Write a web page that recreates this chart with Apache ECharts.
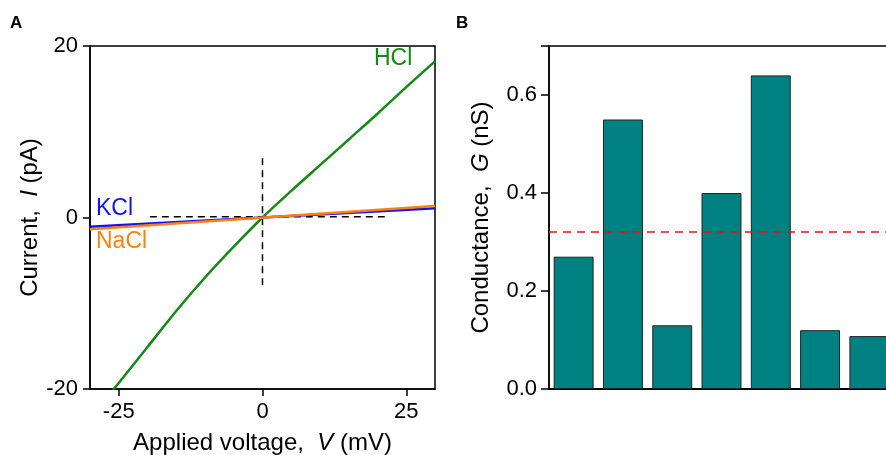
<!DOCTYPE html>
<html>
<head>
<meta charset="utf-8">
<script src="https://cdn.jsdelivr.net/npm/echarts@6/dist/echarts.min.js"></script>
<style>
  html, body { margin: 0; padding: 0; background: #fff; }
  #Root { width: 886px; height: 455px; }
</style>
</head>
<body>
<div id="Root"></div>
<script>
// panel A: I-V curves
let voltageHCl = [-26, -25, -20, -15, -10, -5, 0, 5, 10, 15, 20, 25, 30]
let currentHCl = [-20.1, -19.3, -15.1, -10.9, -7.0, -3.4, 0, 3.1, 6.1, 9.1, 12.1, 15.2, 18.2]
let voltageSalt = [-30, 30]
let currentKCl = [-1.07, 1.07]
let currentNaCl = [-1.38, 1.34]
let dashH = [[-19.6, 0.1], [21.3, 0.1]]
let dashV = [[0, 6.9], [0, -8.3]]
let xTicksA = [-25, 0, 25]

// panel B: conductance bars
let barCategories = ["1", "2", "3", "4", "5", "6", "7"]
let conductance = [0.27, 0.55, 0.13, 0.40, 0.64, 0.12, 0.108]
let meanConductance = 0.32

let font = "'Liberation Sans', Arial, sans-serif"

function zip(xs, ys) {
    return xs.map(function (x, i) { return [x, ys[i]] })
}

let chart = echarts.init(document.getElementById("Root"), null, { renderer: "canvas" })

let axisBase = {
    axisLine: { show: true, onZero: false, lineStyle: { color: "#000", width: 1.5 } },
    axisTick: { show: true, inside: false, length: 7, lineStyle: { color: "#000", width: 1.5 } },
    splitLine: { show: false },
    axisLabel: { color: "#000", fontSize: 22, fontFamily: font, margin: 12 }
}

let titleRich = {
    n: { fontSize: 24, color: "#000", fontFamily: font },
    i: { fontSize: 24, color: "#000", fontFamily: font, fontStyle: "italic" }
}

let options = {
    animation: false,
    textStyle: { fontFamily: font },
    grid: [
        { left: 90, top: 46, width: 345, height: 343, outerBoundsMode: "none", containLabel: false,
          show: true, borderColor: "#000", borderWidth: 1.5, backgroundColor: "transparent" },
        { left: 549, top: 46, width: 345, height: 343, outerBoundsMode: "none", containLabel: false,
          show: true, borderColor: "#000", borderWidth: 1.5, backgroundColor: "transparent" }
    ],
    xAxis: [
        Object.assign({}, axisBase, {
            type: "value", gridIndex: 0, min: -30, max: 30,
            axisTick: Object.assign({}, axisBase.axisTick, { customValues: xTicksA }),
            axisLabel: Object.assign({}, axisBase.axisLabel, { customValues: xTicksA }),
            name: "{n|Applied voltage,  }{i|V}{n| (mV)}",
            nameLocation: "middle", nameGap: 42,
            nameTextStyle: { rich: titleRich }
        }),
        {
            type: "category", gridIndex: 1, data: barCategories,
            axisLine: { show: true, lineStyle: { color: "#000", width: 2 } },
            axisTick: { show: false },
            axisLabel: { show: false }
        }
    ],
    yAxis: [
        Object.assign({}, axisBase, {
            type: "value", gridIndex: 0, min: -20, max: 20, interval: 20,
            name: "{n|Current,  }{i|I}{n| (pA)}",
            nameLocation: "middle", nameGap: 46,
            nameTextStyle: { rich: titleRich }
        }),
        Object.assign({}, axisBase, {
            type: "value", gridIndex: 1, min: 0, max: 0.7, interval: 0.2,
            axisTick: Object.assign({}, axisBase.axisTick, { length: 8 }),
            axisLabel: Object.assign({}, axisBase.axisLabel, {
                formatter: function (v) { return v > 0.65 ? "" : v.toFixed(1) }
            }),
            name: "{n|Conductance,  }{i|G}{n| (nS)}",
            nameLocation: "middle", nameGap: 56,
            nameTextStyle: { rich: titleRich }
        })
    ],
    series: [
        {
            name: "dashH", type: "line", xAxisIndex: 0, yAxisIndex: 0, data: dashH,
            symbol: "none", lineStyle: { color: "#000", width: 1.5, type: [7, 5] }, z: 1
        },
        {
            name: "dashV", type: "line", xAxisIndex: 0, yAxisIndex: 0, data: dashV,
            symbol: "none", lineStyle: { color: "#000", width: 1.5, type: [7, 5] }, z: 1
        },
        {
            name: "HCl", type: "line", xAxisIndex: 0, yAxisIndex: 0, data: zip(voltageHCl, currentHCl),
            symbol: "none", smooth: 0.3, lineStyle: { color: "#138a13", width: 2.5 }, z: 2
        },
        {
            name: "KCl", type: "line", xAxisIndex: 0, yAxisIndex: 0, data: zip(voltageSalt, currentKCl),
            symbol: "none", lineStyle: { color: "#1010ff", width: 2.5 }, z: 3
        },
        {
            name: "NaCl", type: "line", xAxisIndex: 0, yAxisIndex: 0, data: zip(voltageSalt, currentNaCl),
            symbol: "none", lineStyle: { color: "#ff8010", width: 2.5 }, z: 4
        },
        {
            name: "G", type: "bar", xAxisIndex: 1, yAxisIndex: 1, data: conductance,
            barCategoryGap: "19%",
            itemStyle: { color: "#008080", borderColor: "#222", borderWidth: 1 },
            markLine: {
                silent: true, symbol: "none", label: { show: false },
                lineStyle: { color: "#ee1111", width: 1.5, type: [8, 6] },
                data: [{ yAxis: meanConductance }]
            }
        }
    ],
    graphic: [
        { type: "text", left: 10, top: 15, style: { text: "A", font: "bold 17px " + font, fill: "#000" } },
        { type: "text", left: 456, top: 15, style: { text: "B", font: "bold 17px " + font, fill: "#000" } },
        { type: "text", left: 96, top: 197, style: { text: "KCl", font: "23px " + font, fill: "#1010ff" } },
        { type: "text", left: 96, top: 230, style: { text: "NaCl", font: "23px " + font, fill: "#ff8010" } },
        { type: "text", left: 374, top: 47, style: { text: "HCl", font: "23px " + font, fill: "#138a13" } }
    ]
}

chart.setOption(options)
</script>
</body>
</html>
